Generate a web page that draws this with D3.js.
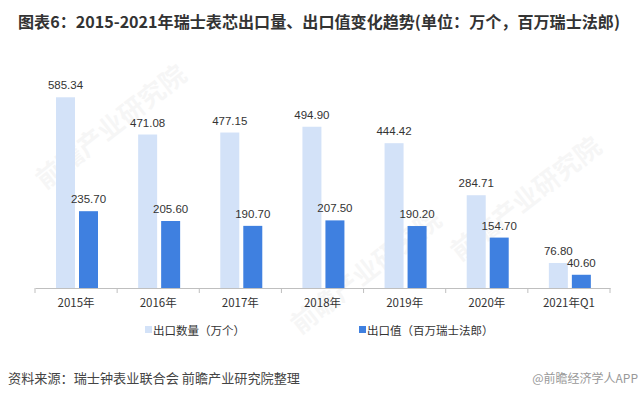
<!DOCTYPE html>
<html>
<head>
<meta charset="utf-8">
<script src="https://cdn.jsdelivr.net/npm/d3@7"></script>
<style>
  html, body { margin: 0; padding: 0; background: #fff; }
  svg { display: block; font-family: "Noto Sans CJK SC", "Liberation Sans", sans-serif; }
</style>
</head>
<body>
<svg id="chart" width="640" height="399"></svg>
<script>
// data
let categories = ["2015年", "2016年", "2017年", "2018年", "2019年", "2020年", "2021年Q1"];
let export_qty = [585.34, 471.08, 477.15, 494.90, 444.42, 284.71, 76.80];   // 万个
let export_val = [235.70, 205.60, 190.70, 207.50, 190.20, 154.70, 40.60];   // 百万瑞士法郎
let series_names = ["出口数量（万个）", "出口值（百万瑞士法郎）"];
let series_colors = ["#D3E2F8", "#3F80E0"];

let title = "图表6：2015-2021年瑞士表芯出口量、出口值变化趋势(单位：万个，百万瑞士法郎)";
let source = "资料来源：瑞士钟表业联合会 前瞻产业研究院整理";

let svg = d3.select("#chart");

// faint watermarks
let marks = [[45, 190], [300, 335], [460, 262]];
svg.append("g").selectAll("text")
    .data(marks)
    .enter().append("text")
    .attr("transform", (d) => `translate(${d[0]},${d[1]}) rotate(-38)`)
    .style("font-size", "26px")
    .style("font-weight", "bold")
    .style("fill", "#000")
    .style("opacity", 0.03)
    .text("前瞻产业研究院");

svg.append("text")
    .attr("x", 18).attr("y", 28)
    .attr("textLength", 602)
    .attr("lengthAdjust", "spacingAndGlyphs")
    .style("font-size", "16px")
    .style("font-weight", "bold")
    .style("fill", "#333")
    .text(title);

let x = d3.scaleBand().domain(categories).range([35, 610]);
let xi = d3.scaleBand().domain([0, 1]).range([21, 63]).paddingInner(0.174);
let y = d3.scaleLinear().domain([0, 600]).range([288, 92.5]);

let rows = categories.map((c, i) => ({cat: c, vals: [export_qty[i], export_val[i]]}));

let groups = svg.append("g").selectAll("g")
    .data(rows)
    .enter().append("g")
    .attr("transform", (d) => `translate(${x(d.cat)},0)`);

groups.selectAll("rect")
    .data((d) => d.vals.map((v, k) => ({k: k, v: v})))
    .enter().append("rect")
    .attr("x", (d) => xi(d.k))
    .attr("width", xi.bandwidth())
    .attr("y", (d) => y(d.v))
    .attr("height", (d) => y(0) - y(d.v))
    .style("fill", (d) => series_colors[d.k]);

groups.selectAll("text")
    .data((d) => d.vals.map((v, k) => ({k: k, v: v})))
    .enter().append("text")
    .attr("x", (d) => xi(d.k) + xi.bandwidth() / 2)
    .attr("y", (d) => y(d.v) - 8)
    .attr("text-anchor", "middle")
    .style("font-family", "'Liberation Sans', sans-serif")
    .style("font-size", "11.5px")
    .style("fill", "#333")
    .text((d) => d.v.toFixed(2));

// x axis
let axis = svg.append("g")
    .attr("transform", `translate(0,${y(0)})`)
    .call(d3.axisBottom(x).tickSize(0).tickPadding(11));
axis.select(".domain").attr("stroke", "#BFBFBF");
axis.selectAll(".tick text")
    .style("font-size", "11.5px")
    .style("font-family", "'Noto Sans CJK SC', sans-serif")
    .style("fill", "#333");
axis.selectAll(".sep")
    .data(d3.range(categories.length + 1))
    .enter().append("line")
    .attr("class", "sep")
    .attr("x1", (i) => 35 + i * x.step())
    .attr("x2", (i) => 35 + i * x.step())
    .attr("y1", 0).attr("y2", 5)
    .attr("stroke", "#BFBFBF");

// legend
let legend_x = [145, 359];
let leg = svg.append("g").selectAll("g")
    .data(series_names)
    .enter().append("g")
    .attr("transform", (d, i) => `translate(${legend_x[i]},330)`);
leg.append("rect")
    .attr("x", 0).attr("y", -4)
    .attr("width", 7).attr("height", 7)
    .style("fill", (d, i) => series_colors[i]);
leg.append("text")
    .attr("x", 8).attr("y", 4.5)
    .style("font-size", "11.5px")
    .style("fill", "#333")
    .text((d) => d);

svg.append("text")
    .attr("x", 8).attr("y", 383)
    .attr("textLength", 292)
    .attr("lengthAdjust", "spacingAndGlyphs")
    .style("font-size", "13px")
    .style("fill", "#444")
    .text(source);

svg.append("text")
    .attr("x", 638).attr("y", 383)
    .attr("text-anchor", "end")
    .style("font-size", "12px")
    .style("fill", "#999")
    .text("@前瞻经济学人APP");
</script>
</body>
</html>
